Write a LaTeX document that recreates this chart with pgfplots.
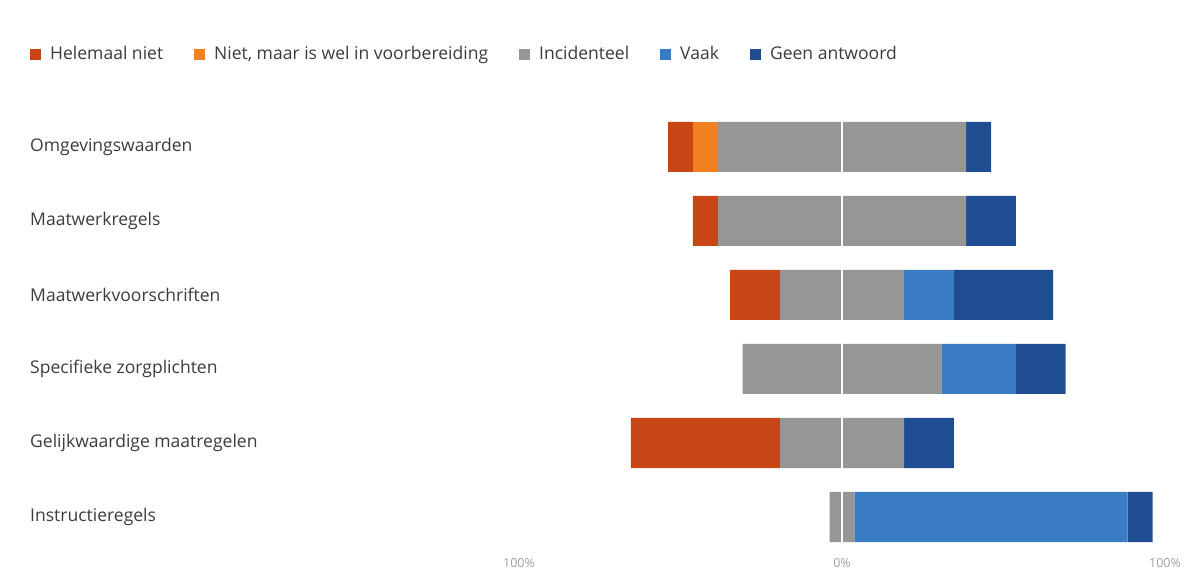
\documentclass[border=0pt]{standalone}
\usepackage{pgfplots}
\usepackage{pgfplotstable}
\usepackage{fontspec}
\setmainfont{Open Sans}
\pgfplotsset{compat=1.18}

\definecolor{cHel}{RGB}{200,70,22}
\definecolor{cNiet}{RGB}{240,128,32}
\definecolor{cInc}{RGB}{150,150,150}
\definecolor{cVaak}{RGB}{58,124,196}
\definecolor{cGeen}{RGB}{30,78,145}
\definecolor{txt}{RGB}{60,60,60}

% percentages of 13 answers; offset = left end of each bar
\pgfplotstableread{
y offset helemaal niet incid vaak geen
0 -53.85 7.69 7.69 76.92 0 7.69
1 -46.15 7.69 0 76.92 0 15.38
2 -34.62 15.38 0 38.46 15.38 30.77
3 -30.77 0 0 61.54 23.08 15.38
4 -65.38 46.15 0 38.46 0 15.38
5 -3.85 0 0 7.69 84.62 7.69
}\datatable

\begin{document}
\begin{tikzpicture}[x=1bp,y=1bp]
\useasboundingbox (0,0) rectangle (1193,576);
\begin{axis}[
  at={(519bp,22bp)}, anchor=south west,
  scale only axis, width=646bp, height=444bp,
  xbar stacked, stack negative=on previous, bar width=50bp,
  xmin=-100, xmax=100, ymin=-0.5, ymax=5.5, y dir=reverse,
  axis line style={draw=none}, major tick length=0pt,
  axis on top, xmajorgrids, x grid style={white, line width=1.5bp},
  /pgf/number format/assume math mode=true,
  xtick={-100,0,100}, xticklabels={100\%,0\%,100\%},
  xticklabel style={font=\fontsize{12.5}{14}\selectfont, text=black!38, yshift=-1bp},
  ytick={0,...,5},
  yticklabels={Omgevingswaarden,Maatwerkregels,Maatwerkvoorschriften,Specifieke zorgplichten,Gelijkwaardige maatregelen,Instructieregels},
  yticklabel style={font=\fontsize{17.6}{19}\selectfont, text=txt, anchor=west, xshift=-489bp, inner sep=0pt},
  legend columns=-1,
  legend style={at={(axis description cs:-0.757,1.126)}, anchor=west, draw=none, inner sep=0pt,
    font=\fontsize{17.6}{19}\selectfont, text=txt,
    /tikz/every odd column/.append style={column sep=7bp},
    /tikz/every even column/.append style={column sep=29bp}},
  legend image code/.code={\draw[#1,draw=none] (0bp,-5.5bp) rectangle (11bp,5.5bp);},
]
\addplot[draw=none, fill=none, forget plot] table[x=offset, y=y] {\datatable};
\addplot[draw=none, fill=cHel] table[x=helemaal, y=y] {\datatable};
\addlegendentry{Helemaal niet}
\addplot[draw=none, fill=cNiet] table[x=niet, y=y] {\datatable};
\addlegendentry{Niet, maar is wel in voorbereiding}
\addplot[draw=none, fill=cInc] table[x=incid, y=y] {\datatable};
\addlegendentry{Incidenteel}
\addplot[draw=none, fill=cVaak] table[x=vaak, y=y] {\datatable};
\addlegendentry{Vaak}
\addplot[draw=none, fill=cGeen] table[x=geen, y=y] {\datatable};
\addlegendentry{Geen antwoord}
\end{axis}
\end{tikzpicture}
\end{document}
